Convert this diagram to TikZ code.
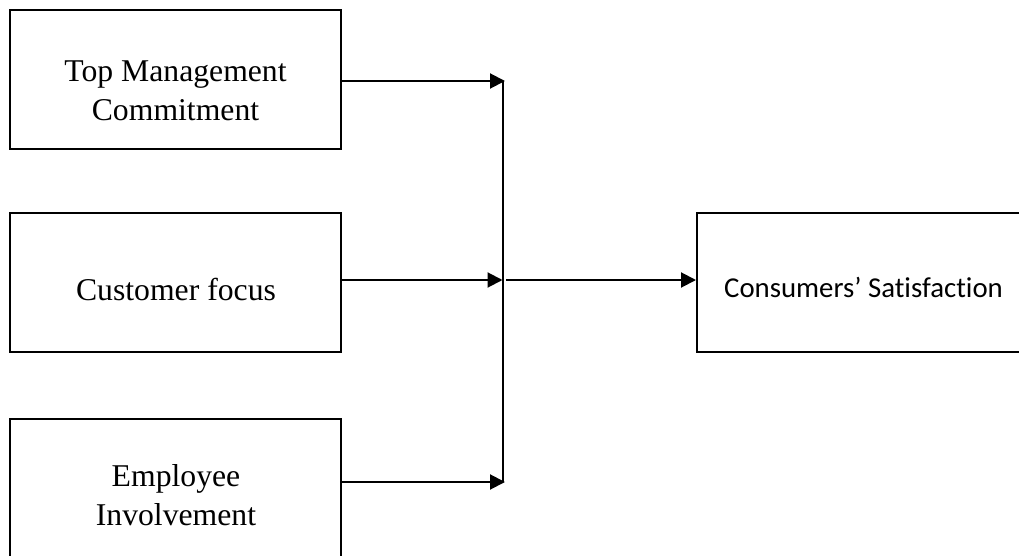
\documentclass[tikz,border=0pt]{standalone}
\usepackage{fontspec}
\setmainfont{Liberation Serif}
\newfontfamily\calibrifont[Ligatures={NoCommon}]{Carlito}
\usetikzlibrary{arrows.meta}
\begin{document}
\begin{tikzpicture}[x=1pt,y=-1pt,
  box/.style={draw=black,line width=2pt,minimum width=331pt,minimum height=139pt,inner sep=0pt},
  lbl/.style={inner sep=0pt,align=center,font=\fontsize{31.7}{39}\selectfont},
  rlbl/.style={inner sep=0pt,font=\calibrifont\fontsize{28.8}{34}\selectfont},
  conn/.style={line width=2pt},
  arr/.style={line width=2pt,-{Triangle[length=15pt,width=15pt]}}]
\useasboundingbox (0,0) rectangle (1019,556);
\clip (0,0) rectangle (1019,556);
\fill[white] (0,0) rectangle (1019,556);
% boxes
\node[box] (top) at (175.5,79.5) {};
\node[box] (mid) at (175.5,282.5) {};
\node[box,minimum height=160pt] (bot) at (175.5,499) {};
\node[box,minimum width=343pt] (res) at (868.5,282.5) {};
% labels
\node[lbl] (toptxt) at (175.5,91) {Top Management\\Commitment};
\node[lbl] (midtxt) at (176,289.6) {Customer focus};
\node[lbl] (bottxt) at (176,495.5) {Employee\\Involvement};
\node[rlbl] (restxt) at (863.5,287) {Consumers’ Satisfaction};
% junction points
\coordinate (j1) at (505,81);
\coordinate (j2) at (502.5,280);
\coordinate (j3) at (505,482);
\coordinate (v1) at (502.5,81);
\coordinate (v3) at (502.5,482);
\coordinate (s2) at (506,280);
% connectors
\draw[arr] (top.east |- j1) -- (j1);
\draw[arr] (mid.east |- j2) -- (j2);
\draw[arr] (bot.east |- j3) -- (j3);
\draw[conn] (v1) -- (v3);
\draw[arr] (s2) -- (res.west |- s2);
\end{tikzpicture}
\end{document}
